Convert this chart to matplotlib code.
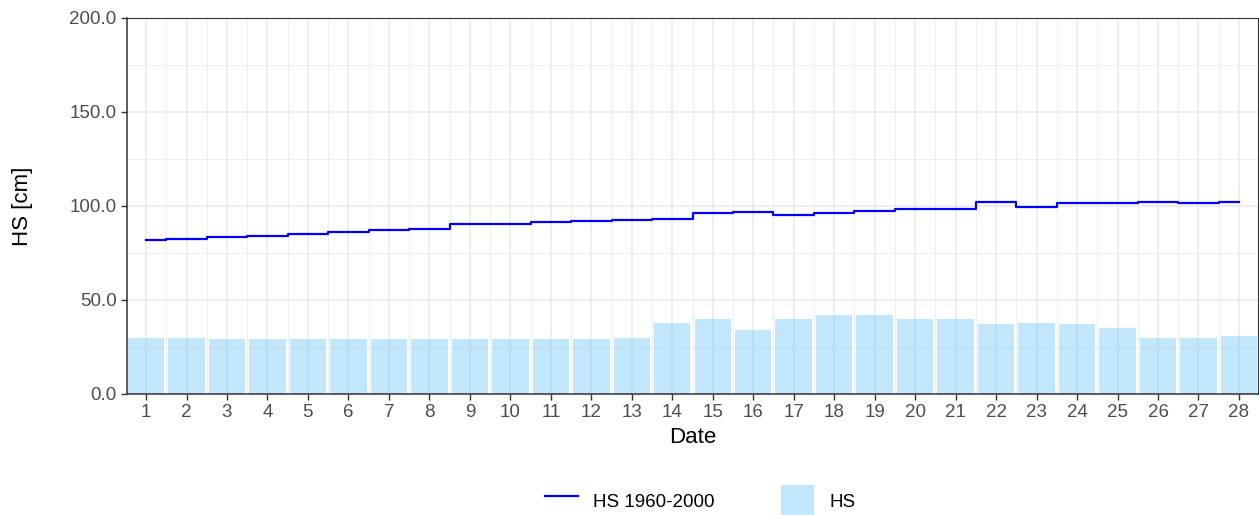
import numpy as np
import matplotlib.pyplot as plt
from matplotlib.lines import Line2D
from matplotlib.patches import Patch

plt.rcParams['font.family'] = ['Liberation Sans', 'DejaVu Sans']

# daily snow depth values
days = list(range(1, 29))
hs = [30, 30, 29, 29, 29, 29, 29, 29, 29, 29, 29, 29, 30, 38,
      40, 34, 40, 42, 42, 40, 40, 37, 38, 37, 35, 30, 30, 31]
hs_mean = [82.1, 82.5, 83.5, 83.9, 85.1, 86.0, 87.1, 87.6, 90.4, 90.4,
           91.3, 91.8, 92.4, 93.3, 96.1, 96.8, 95.4, 96.3, 97.3, 98.4,
           98.4, 102.1, 99.6, 101.8, 101.8, 101.9, 101.4, 102.1]

fig = plt.figure(figsize=(12.59, 5.15), dpi=100)
ax = fig.add_axes([127 / 1259, 1 - 394 / 515, 1131 / 1259, 376 / 515])

# grid like ggplot
ax.set_axisbelow(True)
for v in np.arange(0.5, 29, 1):
    ax.axvline(v, color='#EBEBEB', lw=0.6, zorder=0)
for v in days:
    ax.axvline(v, color='#EBEBEB', lw=1.2, zorder=0)
for v in [25, 75, 125, 175]:
    ax.axhline(v, color='#EBEBEB', lw=0.6, zorder=0)
for v in [0, 50, 100, 150, 200]:
    ax.axhline(v, color='#EBEBEB', lw=1.2, zorder=0)

ax.bar(days, hs, width=0.9, color='lightskyblue', alpha=0.5, zorder=2)
ax.step(days, hs_mean, where='mid', color='blue', lw=1.6, zorder=3)

ax.set_xlim(0.53, 28.47)
ax.set_ylim(0, 200)
ax.set_xticks(days)
ax.set_yticks([0, 50, 100, 150, 200])
ax.set_yticklabels(['%.1f' % v for v in [0, 50, 100, 150, 200]])
ax.tick_params(colors='#333333', labelcolor='#4D4D4D', labelsize=13.5, length=4, width=1)

for s in ax.spines.values():
    s.set_color('#333333')
    s.set_linewidth(0.8)
ax.spines['left'].set_linewidth(1.1)
ax.spines['bottom'].set_linewidth(1.1)

ax.set_xlabel('Date', fontsize=16, labelpad=4)
ax.set_ylabel('HS [cm]', fontsize=16, labelpad=26)

handles = [Line2D([0], [0], color='blue', lw=1.6),
           Patch(facecolor='lightskyblue', alpha=0.5)]
fig.legend(handles, ['HS 1960-2000', 'HS'], loc='center', bbox_to_anchor=(0.556, 0.027),
           ncol=2, frameon=False, fontsize=13.5, columnspacing=3.5, handlelength=1.8, handleheight=2.2)

fig.savefig('out.png', dpi=100)
